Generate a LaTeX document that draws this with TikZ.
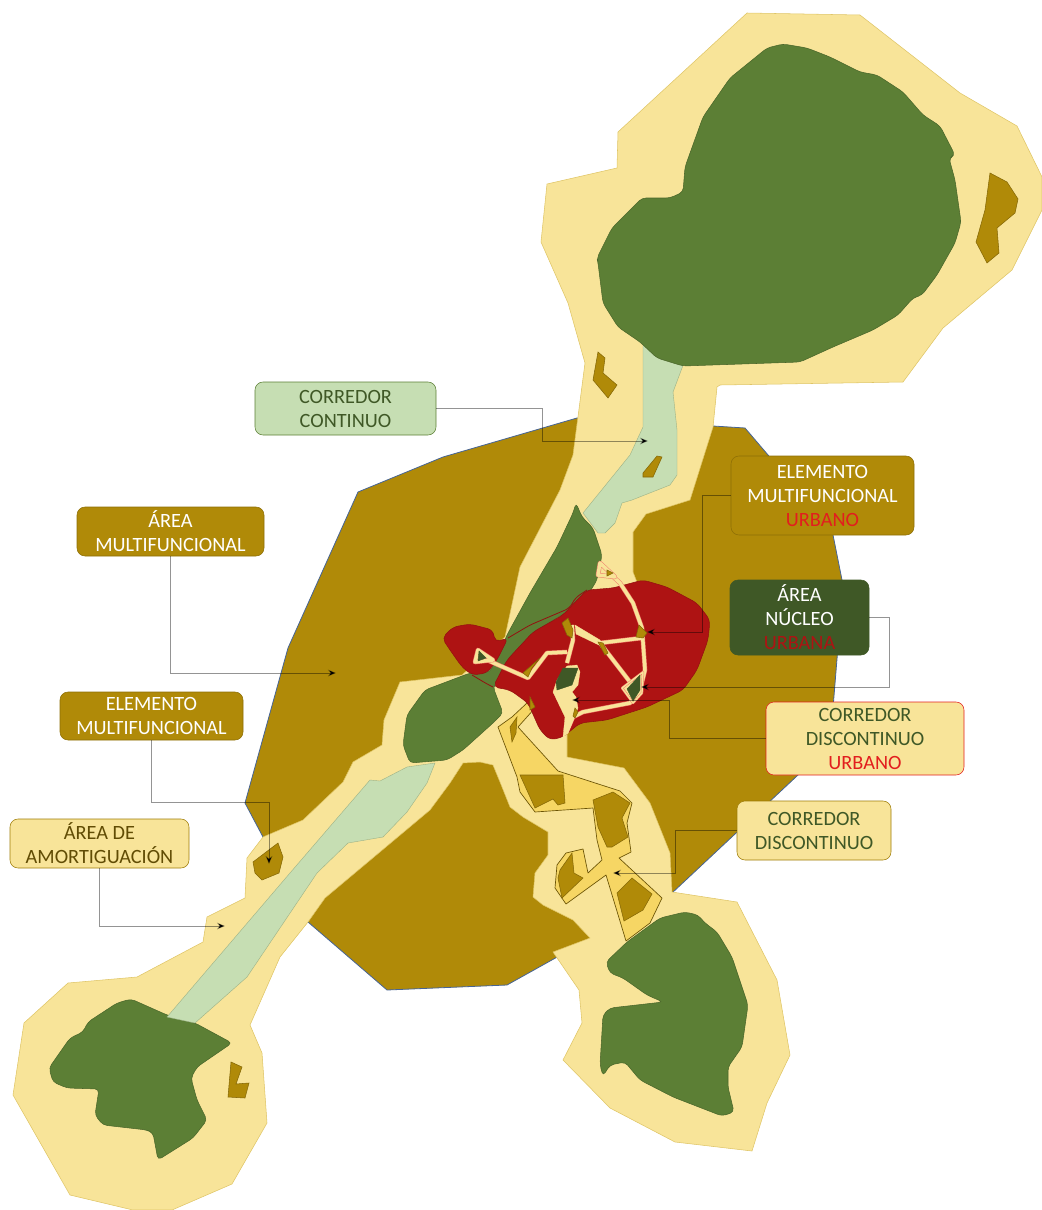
\documentclass[tikz,border=0pt]{standalone}
\usepackage{fontspec}
\setmainfont{Carlito}
\usepackage{xcolor}
\usetikzlibrary{arrows.meta}
\definecolor{AreaBrown}{RGB}{176,138,8}
\definecolor{BufferYellow}{RGB}{248,228,153}
\definecolor{CorridorYellow}{RGB}{246,214,100}
\definecolor{CoreGreen}{RGB}{92,127,53}
\definecolor{CoreDark}{RGB}{63,88,38}
\definecolor{LightGreen}{RGB}{198,222,179}
\definecolor{UrbanRed}{RGB}{174,19,19}
\definecolor{TextRed}{RGB}{226,30,30}
\definecolor{EdgeBlue}{RGB}{70,100,150}
\definecolor{NetPink}{RGB}{240,130,110}

\begin{document}
\begin{tikzpicture}[x=0.75pt,y=-0.75pt,
        lbl/.style={rectangle,rounded corners=6pt,inner sep=0pt,align=center,
                    font=\fontsize{15.2}{18}\selectfont},
        brownlbl/.style={lbl,fill=AreaBrown,draw=AreaBrown!80!black,text=white},
        yellowlbl/.style={lbl,fill=BufferYellow,draw=AreaBrown!90!black,text=CoreDark},
        arr/.style={-{Stealth[length=6pt,width=5pt]},draw=black,draw opacity=.42,line width=.7pt},
        elem/.style={fill=AreaBrown,draw=AreaBrown!75!black,line width=.4pt},
        core/.style={fill=CoreGreen,draw=CoreGreen!80!black,line width=.4pt,rounded corners=3pt},
        dark/.style={fill=CoreDark,draw=CoreDark,line width=.3pt},
        corr/.style={fill=LightGreen,draw=CoreGreen!60,line width=.3pt},
        disc/.style={fill=CorridorYellow,draw=AreaBrown!60!black,line width=.5pt,line join=round},
        urban/.style={fill=UrbanRed,draw=UrbanRed!85!black,line width=.4pt,rounded corners=4pt},
        net/.style={draw=NetPink,double=BufferYellow,double distance=2.6pt,line width=.4pt,line join=round}
      ]
        \useasboundingbox (0,0) rectangle (1042,1210);

        \fill[AreaBrown,draw=EdgeBlue,line width=.6pt] (358,492)--(443,457)--(577,418)--(713,426)--(745,428)--(832,530)
          --(843,585)--(830,745)--(672,893)--(507,985)--(387,990)--(308,922)--(263,837)--(245,803)--(288,648)--cycle;

        \draw[fill=BufferYellow,draw=AreaBrown!35!BufferYellow,line width=.4pt] (747,13)--(860,15)--(960,93)--(1017,126)
          --(1042,177)--(1042,210)--(1012,270)--(943,328)--(903,382)--(720,385)--(717,387)--(713,427)--(690,500)
          --(646,514)--(633,532)--(633,572)--(640,590)--(600,700)--(567,725)
          --(567,757)--(624,768)--(650,803)--(670,853)--(672,892)--(737,902)--(777,980)--(790,1055)--(767,1103)
          --(752,1151)--(675,1142)--(610,1108)--(563,1060)--(582,1023)--(579,990)--(553,952)--(590,938)--(573,920)
          --(543,905)--(533,897)--(535,873)--(548,855)--(548,832)--(523,817)--(510,807)--(500,782)--(493,765)
          --(480,762)--(463,763)--(450,783)--(430,810)--(325,898)--(308,922)--(280,957)--(250,1025)--(262,1053)
          --(267,1123)--(232,1184)--(172,1210)--(133,1210)--(70,1195)--(13,1095)--(24,1023)--(68,983)--(137,977)
          --(203,942)--(207,917)--(245,898)--(247,858)--(263,837)--(303,820)--(343,782)--(353,762)--(382,745)
          --(384,720)--(400,682)--(462,675)--(505,637)--(520,567)--(560,490)--(573,455)--(585,363)--(568,303)
          --(541,242)--(547,184)--(617,168)--(618,132)--cycle;

        \draw[corr] (643,340)--(643,427)--(630,455)--(583,513)--(598,533)--(605,533)--(615,523)--(622,503)--(632,500)
          --(670,485)--(677,475)--(677,430)--(673,392)--(685,360)--cycle;

        \draw[disc] (498,727)--(512,717)--(527,703)--(535,708)--(518,727)--(558,771)--(620,791)--(632,803)--(627,823)
          --(631,852)--(619,858)--(662,898)--(650,923)--(626,941)--(606,875)--(566,904)--(555,888)--(557,865)
          --(566,853)--(583,849)--(588,873)--(602,860)--(597,840)--(593,808)--(535,812)--(520,792)--(517,777)--cycle;

        \draw[elem] (990,173)--(1007,182)--(1018,199)--(1015,213)--(997,228)--(999,253)--(987,263)--(976,242)--(985,210)--cycle;
        \draw[elem] (598,352)--(605,358)--(603,373)--(617,385)--(608,398)--(593,380)--cycle;
        \draw[elem] (657,456)--(662,457)--(653,477)--(643,477)--(643,473)--cycle;
        \draw[elem] (231,1062)--(242,1067)--(236,1084)--(249,1083)--(245,1098)--(228,1097)--cycle;
        \draw[elem] (278,843)--(283,857)--(279,873)--(262,880)--(255,873)--(253,862)--cycle;
        \draw[elem] (520,775)--(563,775)--(565,803)--(558,805)--(553,799)--(535,808)--cycle;
        \draw[elem] (593,800)--(613,792)--(630,803)--(622,818)--(628,837)--(612,847)--(607,847)--(598,827)--cycle;
        \draw[elem] (572,853)--(574,873)--(583,878)--(562,898)--(558,878)--(560,870)--cycle;
        \draw[elem] (632,878)--(652,894)--(643,910)--(624,921)--(617,893)--cycle;
        \draw[elem] (510,727)--(517,717)--(516,733)--(512,742)--cycle;

        \draw[core] (783,44)--(807,48)--(830,57)--(860,72)--(877,75)--(903,92)--(923,115)--(940,126)--(955,155)--(949,158)
          --(955,180)--(961,222)--(955,243)--(937,275)--(922,295)--(913,298)--(898,315)--(873,330)--(833,347)--(800,362)
          --(683,366)--(657,358)--(640,342)--(618,327)--(603,303)--(598,263)--(597,258)--(602,248)--(612,228)--(642,198)
          --(670,198)--(683,192)--(685,167)--(703,117)--(730,78)--(767,48)--cycle;
        \draw[core] (131,999)--(167,1015)--(195,1023)--(232,1043)--(197,1067)--(191,1078)--(197,1100)--(207,1120)--(193,1138)
          --(158,1160)--(153,1133)--(147,1130)--(103,1125)--(95,1115)--(99,1089)--(67,1088)--(53,1082)--(49,1068)--(70,1038)
          --(83,1032)--(88,1022)--(117,1003)--cycle;
        \draw[core] (685,912)--(698,915)--(705,923)--(717,932)--(732,957)--(748,1005)--(742,1047)--(728,1067)--(728,1087)
          --(734,1112)--(722,1116)--(673,1097)--(640,1080)--(625,1062)--(610,1065)--(603,1076)--(600,1065)--(603,1015)
          --(610,1008)--(663,1002)--(647,995)--(623,978)--(610,973)--(606,962)--(627,942)--(660,918)--cycle;
        \draw[core] (576,503)--(582,517)--(593,528)--(602,555)--(597,580)--(583,603)--(557,618)--(537,630)
          --(517,653)--(493,687)--(503,713)--(493,723)--(463,750)--(447,760)--(410,763)--(403,745)--(407,715)
          --(425,690)--(470,673)--(490,672)--(508,633)--(530,593)--(557,547)--(573,513)--cycle;

        \draw[corr] (167,1017)--(290,873)--(370,780)--(380,781)--(407,767)--(435,763)--(427,783)--(407,812)--(383,837)
          --(348,843)--(317,873)--(247,977)--(195,1023)--cycle;

        \draw[urban] (643,580)--(667,587)--(697,603)--(710,620)--(708,640)--(697,670)--(683,690)--(647,707)--(607,720)
          --(580,723)--(563,737)--(550,740)--(540,730)--(528,703)--(510,690)--(493,687)--(507,660)--(533,632)
          --(563,615)--(577,600)--(587,590)--(613,588)--cycle;
        \draw[urban] (442,638)--(453,627)--(470,624)--(493,630)--(495,642)--(508,638)--(497,660)--(487,673)--(472,675)
          --(462,667)--(450,650)--cycle;
        \draw[UrbanRed!85!black,line width=.6pt,rounded corners=4pt] (508,638)--(530,625)--(570,608)--(575,598)--(587,590);
        \draw[UrbanRed!85!black,line width=.6pt,rounded corners=4pt] (472,675)--(487,684)--(493,687);

        \draw[net] (606,570)--(620,583)--(633,603)--(642,628)--(645,670)--(640,690)--(630,703)--(583,712)--(573,717)
          (600,643)--(642,638) (600,643)--(630,682) (572,625)--(573,640)--(567,663)
          (567,652)--(547,653)--(528,678)--(487,660) (573,717)--(566,733);
        \draw[net,fill=BufferYellow] (600,563)--(615,577)--(598,575)--cycle;
        \draw[net,fill=BufferYellow] (478,650)--(475,662)--(493,660)--cycle;
        \draw[net,double distance=1pt,fill=BufferYellow] (622,688)--(643,672)--(642,693)--(633,703)--cycle;
        \draw[BufferYellow,line width=.2pt,fill=BufferYellow] (575,625)--(600,640)--(603,647)--(576,634)--cycle;
        \draw[BufferYellow,line width=.2pt,fill=BufferYellow] (567,666)--(577,665)--(580,672)--(578,685)--(572,692)--(576,697)
          --(578,708)--(568,733)--(563,737)--(565,717)--(553,692)--(557,680)--cycle;

        \draw[dark] (563,668)--(578,668)--(572,685)--(557,690)--(556,682)--cycle;
        \draw[dark] (627,689)--(640,675)--(640,690)--(633,701)--cycle;
        \draw[dark] (479,651)--(486,658)--(478,661)--cycle;
        \draw[elem] (562,623)--(568,618)--(573,630)--(572,638)--(567,635)--cycle;
        \draw[elem] (639,625)--(647,633)--(643,638)--(636,637)--cycle;
        \draw[elem] (598,642)--(603,643)--(608,653)--(605,655)--cycle;
        \draw[elem] (523,673)--(540,658)--(532,668)--(528,677)--cycle;
        \draw[elem] (575,708)--(578,712)--(575,718)--(573,716)--cycle;
        \draw[elem] (607,570)--(613,573)--(607,576)--cycle;
        \draw[elem] (530,697)--(535,707)--(530,710)--cycle;

        \node[yellowlbl,fill=LightGreen,draw=CoreGreen,minimum width=135.75pt,minimum height=39.75pt] (corrcont) at (345.5,408.5)
          {CORREDOR\\CONTINUO};
        \node[brownlbl,minimum width=137.25pt,minimum height=59.25pt] (elemurb) at (822.5,495.5)
          {ELEMENTO\\MULTIFUNCIONAL\\\textcolor{TextRed}{URBANO}};
        \node[lbl,fill=CoreDark,draw=CoreDark,text=white,minimum width=104.25pt,minimum height=56.25pt] (nucleo) at (799.5,617.5)
          {ÁREA\\NÚCLEO\\\textcolor{UrbanRed}{URBANA}};
        \node[yellowlbl,draw=TextRed,minimum width=148.5pt,minimum height=54.75pt] (discurb) at (865,738.5)
          {CORREDOR\\DISCONTINUO\\\textcolor{TextRed}{URBANO}};
        \node[yellowlbl,minimum width=115.5pt,minimum height=44.25pt] (disc) at (814,830.5)
          {CORREDOR\\DISCONTINUO};
        \node[brownlbl,minimum width=140.25pt,minimum height=36.75pt] (areamulti) at (170.5,531.5)
          {ÁREA\\MULTIFUNCIONAL};
        \node[brownlbl,minimum width=137.25pt,minimum height=36pt] (elemmulti) at (151.5,716)
          {ELEMENTO\\MULTIFUNCIONAL};
        \node[yellowlbl,text=AreaBrown!55!black,minimum width=134.25pt,minimum height=36.75pt] (amort) at (99.5,843.5)
          {ÁREA DE\\AMORTIGUACIÓN};

        \coordinate (corrcontend) at (648,441);
        \coordinate (elemurbend) at (647,632);
        \coordinate (nucleoend) at (641,687);
        \coordinate (discurbend) at (572,700);
        \coordinate (discend) at (613,873);
        \coordinate (areamultiend) at (336,673);
        \coordinate (elemmultiend) at (269,864);
        \coordinate (amortend) at (225,926);

        \draw[arr] (corrcont.east)--(542,408.5)|-(corrcontend);
        \draw[arr] (elemurb.west)--(702,495.5)|-(elemurbend);
        \draw[arr] (nucleo.east)--(889,617.5)|-(nucleoend);
        \draw[arr] (discurb.west)--(669,738.5)|-(discurbend);
        \draw[arr] (disc.west)--(675,830.5)|-(discend);
        \draw[arr] (areamulti.south)|-(areamultiend);
        \draw[arr] (elemmulti.south)--(151.5,802)-|(elemmultiend);
        \draw[arr] (amort.south)|-(amortend);
      \end{tikzpicture}
\end{document}
